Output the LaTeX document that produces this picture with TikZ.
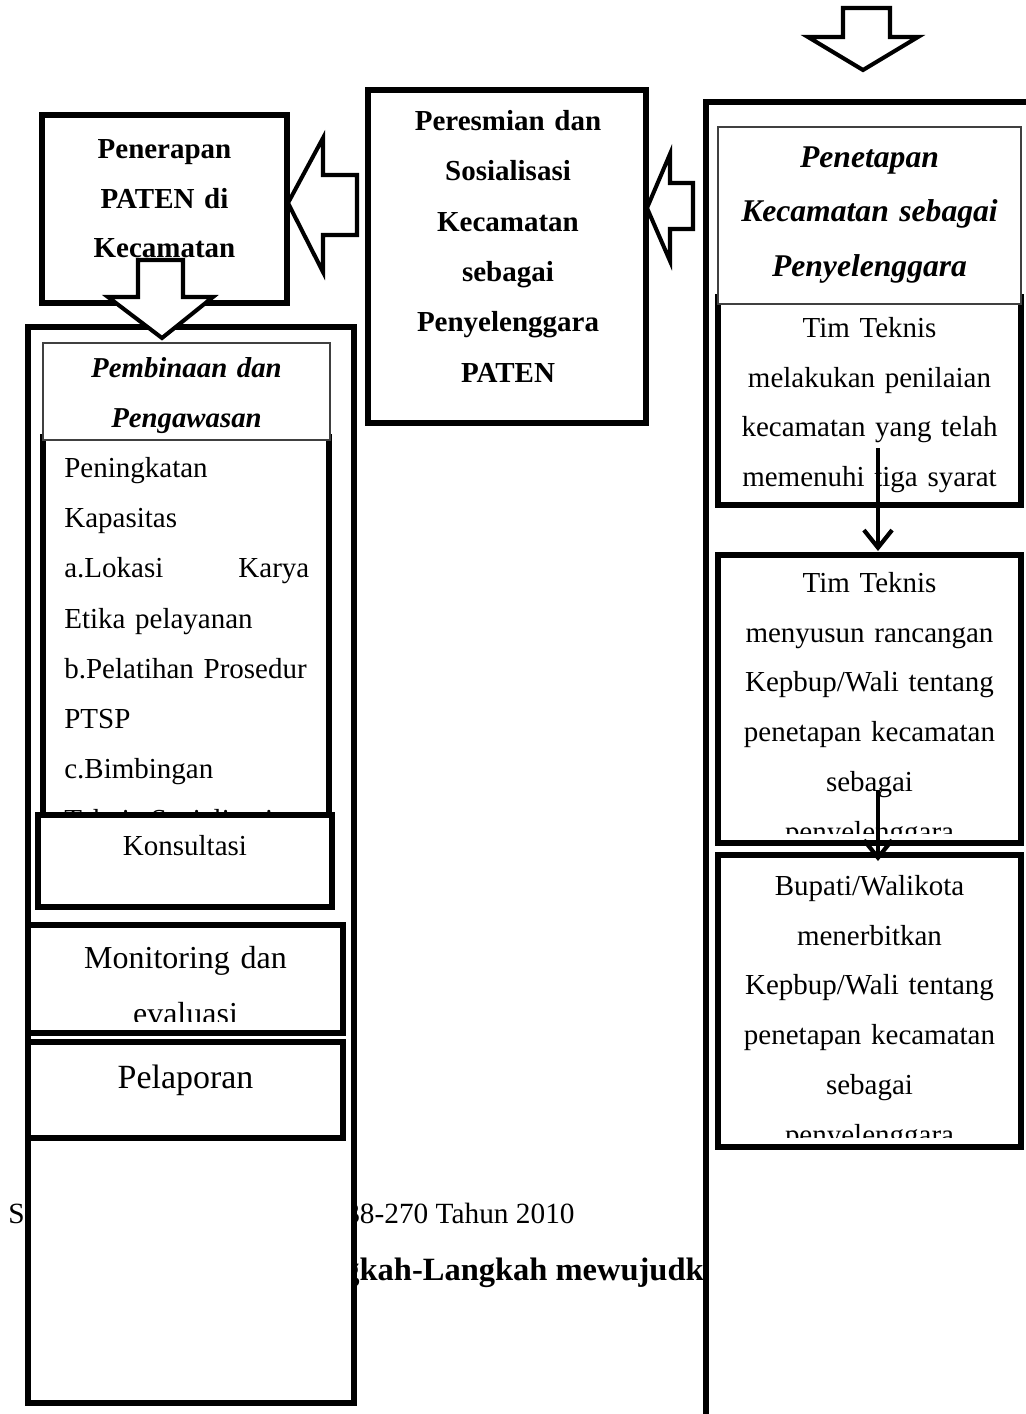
\documentclass[tikz,border=0pt]{standalone}
\usepackage{fontspec}
\setmainfont{Liberation Serif}
\usetikzlibrary{fit}
\usetikzlibrary{calc}
\usetikzlibrary{math}
\usetikzlibrary{arrows.meta}

\tikzset{
  thickbox/.style={draw, line width=3.2pt, fill=white, inner sep=0pt, outer sep=0pt},
  headbox/.style={draw=black!75, line width=0.7pt, fill=white, inner sep=0pt, outer sep=0pt},
  blockarrow/.style={draw, line width=2.3pt, fill=white, line join=miter},
  flow/.style={line width=2.4pt, -{Straight Barb[length=10pt,width=16pt]}},
  boxtext/.style={inner sep=0pt, align=center},
}

\begin{document}
\begin{tikzpicture}[x=0.02cm,y=-0.02cm]

  \tikzmath{
    \ax  = 8.5; % offset of the small arrows from the box centre
    \cut = 10;  % text is cut this far above the lower edge of a box
  }

  \useasboundingbox (0,0) rectangle (1026,1414);
  \clip (0,0) rectangle (1026,1414);

  % caption, mostly hidden behind the two long frames
  \node[anchor=base west, inner sep=0pt, font=\fontsize{16.7}{20}\selectfont] (capS) at (8,1223) {S};
  \node[anchor=base east, inner sep=0pt, font=\fontsize{16.7}{20}\selectfont] (capsrc) at (575,1223) {38-270 Tahun 2010};
  \node[anchor=base west, inner sep=0pt, font=\bfseries\fontsize{18.5}{22}\selectfont] (captitle) at (287,1280) {Langkah-Langkah mewujudkan};

  % long frames
  \node[thickbox, fit={(28,327) (354,1403)}] (frameL) {};
  \node[thickbox, fit={(706,102) (1060,1440)}] (frameR) {};

  % block arrow at the top
  \draw[blockarrow] (843,8) -- (890,8) -- (890,37) -- (918,37) -- (863,70) -- (808,37) -- (843,37) -- cycle;

  % Penerapan PATEN
  \node[thickbox, fit={(42,115) (287,303)}] (penerapan) {};
  \node[boxtext, anchor=north, text width=4.6cm, font=\bfseries\fontsize{16.5}{28.35}\selectfont] (penerapantxt)
    at (164.5,123) {\strut Penerapan\\ PATEN di\\ Kecamatan};

  % Peresmian dan Sosialisasi
  \node[thickbox, fit={(368,90) (646,423)}] (peresmian) {};
  \node[boxtext, anchor=north, text width=5.2cm, font=\bfseries\fontsize{16.5}{28.69}\selectfont] (peresmiantxt)
    at (508,94.6) {\strut Peresmian dan\\ Sosialisasi\\ Kecamatan\\ sebagai\\ Penyelenggara\\ PATEN};

  % block arrows pointing left
  \draw[blockarrow] (693,183) -- (670,183) -- (670,154) -- (647,208) -- (670,261) -- (670,229) -- (693,229) -- cycle;
  \draw[blockarrow] (357,175) -- (323,175) -- (323,138) -- (288,203) -- (323,272) -- (323,235) -- (357,235) -- cycle;

  % block arrow pointing down
  \draw[blockarrow] (138,260) -- (183,260) -- (183,297) -- (213,297) -- (162,338) -- (108,297) -- (138,297) -- cycle;

  % right column
  \node[thickbox, fit={(718,297) (1021,505)}] (tim1) {};
  \begin{scope}
    \clip ($(tim1.south west)+(0,-\cut)$) rectangle (tim1.north east);
    \node[boxtext, anchor=north, text width=6.2cm, font=\fontsize{16.5}{28.35}\selectfont] (tim1txt)
      at (869.5,302) {\strut Tim Teknis\\ melakukan penilaian\\ kecamatan yang telah\\ memenuhi tiga syarat};
  \end{scope}

  \node[headbox, fit={(718,127) (1021,304)}] (penetapan) {};
  \node[boxtext, anchor=north, text width=6.2cm, font=\bfseries\itshape\fontsize{18}{31.18}\selectfont] (penetapantxt)
    at (869.5,128.5) {\strut Penetapan\\ Kecamatan sebagai\\ Penyelenggara};

  \node[thickbox, fit={(718,555) (1021,843)}] (tim2) {};
  \begin{scope}
    \clip ($(tim2.south west)+(0,-\cut)$) rectangle (tim2.north east);
    \node[boxtext, anchor=north, text width=6.2cm, font=\fontsize{16.5}{28.35}\selectfont] (tim2txt)
      at (869.5,557) {\strut Tim Teknis\\ menyusun rancangan\\ Kepbup/Wali tentang\\ penetapan kecamatan\\ sebagai\\ penyelenggara};
  \end{scope}

  \node[thickbox, fit={(718,855) (1021,1147)}] (tim3) {};
  \begin{scope}
    \clip ($(tim3.south west)+(0,-\cut)$) rectangle (tim3.north east);
    \node[boxtext, anchor=north, text width=6.2cm, font=\fontsize{16.5}{28.35}\selectfont] (tim3txt)
      at (869.5,860) {\strut Bupati/Walikota\\ menerbitkan\\ Kepbup/Wali tentang\\ penetapan kecamatan\\ sebagai\\ penyelenggara};
  \end{scope}

  % left column
  \node[thickbox, fit={(43,437) (329,870)}] (kapasitas) {};
  \begin{scope}
    \clip ($(kapasitas.south west)+(0,-\cut)$) rectangle (kapasitas.north east);
    \node[inner sep=0pt, anchor=north west, text width=4.9cm, align=left, font=\fontsize{16.5}{28.63}\selectfont] (kapasitastxt)
      at (64,441.6) {\strut Peningkatan\\ Kapasitas\\ a.Lokasi\hfill Karya\\ Etika pelayanan\\ b.Pelatihan Prosedur\\ PTSP\\ c.Bimbingan\\ Teknis Sosialisasi};
  \end{scope}

  \node[headbox, fit={(43,343) (330,440)}] (pembinaan) {};
  \begin{scope}
    \clip ($(pembinaan.south west)+(0,-7)$) rectangle (pembinaan.north east);
    \node[boxtext, anchor=north, text width=5.7cm, font=\bfseries\itshape\fontsize{16.4}{28.9}\selectfont] (pembinaantxt)
      at (186.5,341.3) {\strut Pembinaan dan\\ Pengawasan};
  \end{scope}

  \node[thickbox, fit={(38,815) (332,907)}] (konsultasi) {};
  \node[inner sep=0pt, anchor=base, font=\fontsize{16.5}{28.35}\selectfont] (konsultasitxt) at (185,855) {Konsultasi};

  \node[thickbox, fit={(28,925) (343,1033)}] (monitoring) {};
  \begin{scope}
    \clip ($(monitoring.south west)+(0,-12)$) rectangle (monitoring.north east);
    \node[boxtext, anchor=north, text width=6cm, font=\fontsize{18.2}{32.3}\selectfont] (monitoringtxt)
      at (185.5,928.1) {\strut Monitoring dan\\ evaluasi};
  \end{scope}

  \node[thickbox, fit={(28,1042) (343,1138)}] (pelaporan) {};
  \node[inner sep=0pt, anchor=base, font=\fontsize{19.3}{23}\selectfont] (pelaporantxt) at (185.5,1088) {Pelaporan};

  % small arrows between the boxes of the right column
  \draw[flow] ($(tim1.south)+(\ax,-57)$) -- ($(tim2.north)+(\ax,-4)$);
  \draw[flow] ($(tim2.south)+(\ax,-53)$) -- ($(tim3.north)+(\ax,6)$);

\end{tikzpicture}
\end{document}
